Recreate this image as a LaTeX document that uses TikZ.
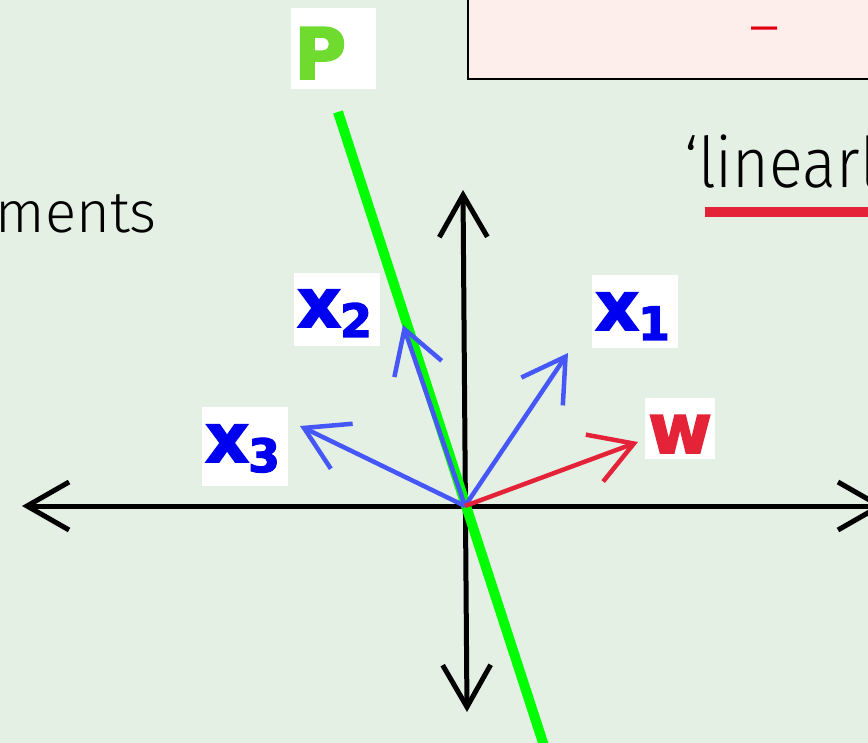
\documentclass[tikz,border=0pt]{standalone}
\usepackage{fontspec}
\usetikzlibrary{arrows.meta}
\newfontfamily\lblfont{DejaVu Sans}[BoldFeatures={FakeBold=2.5}]
\newfontfamily\thinfont{Fira Sans Light}
\newfontfamily\thinnarrow{Fira Sans Light}[FakeStretch=0.9]
\newfontfamily\dashfont{Liberation Sans}
\definecolor{bgc}{HTML}{E4F0E3}
\definecolor{pinkc}{HTML}{FDEDEB}
\definecolor{redc}{HTML}{E42339}
\definecolor{dashred}{HTML}{E00010}
\definecolor{greenc}{HTML}{00FF00}
\definecolor{pgreen}{HTML}{6FDB2F}
\definecolor{vecblue}{HTML}{4657F8}
\definecolor{lblblue}{HTML}{0000F0}
\tikzset{
  axisarr/.style={line width=5pt, black, {Straight Barb[length=42pt,width=48pt]}-{Straight Barb[length=42pt,width=48pt]}},
  vecarr/.style={line width=4.5pt, -{Straight Barb[length=42pt,width=50pt]}},
  lbl/.style={fill=white, inner xsep=3pt, inner ysep=0pt, align=left, font=\lblfont\bfseries\fontsize{68}{68}\selectfont}
}
\newcommand{\subsc}[1]{\kern-1pt\raisebox{-10pt}{\fontsize{46}{46}\selectfont #1}}
\begin{document}
\begin{tikzpicture}[x=1pt,y=-1pt]
\useasboundingbox (0,0) rectangle (868,743);
\clip (0,0) rectangle (868,743);
\fill[bgc] (0,0) rectangle (868,743);
% top box
\draw[line width=2.5pt, fill=pinkc] (468,-10) rectangle (885,79);
\node[anchor=base, inner sep=0pt, text=dashred, font=\dashfont\fontsize{47}{47}\selectfont] (dash) at (765,41) {–};
% texts
\node[anchor=base east, inner sep=0pt, font=\thinfont\fontsize{58}{58}\selectfont] (ments) at (157,233) {ments};
\node[anchor=base west, inner sep=0pt, font=\thinnarrow\fontsize{70}{70}\selectfont] (lin) at (684,188) {‘linearl};
\fill[redc] (705,207) rectangle (885,217);
% coordinates
\coordinate (O) at (465,506);
\coordinate (L) at (22,506);
\coordinate (R) at (885,506);
\coordinate (T) at (463,190);
\coordinate (B) at (467,712);
\coordinate (p1) at (338,112);
\coordinate (p2) at (547,755);
\coordinate (t1) at (568,353);
\coordinate (t2) at (403,325);
\coordinate (t3) at (300,426);
\coordinate (tw) at (638,442);
% axes
\draw[axisarr] (L) -- (R);
\draw[axisarr] (B) -- (T);
% plane line
\draw[greenc, line width=10pt] (p1) -- (p2);
% vectors
\draw[vecarr, vecblue] (O) -- (t1);
\draw[vecarr, vecblue] (O) -- (t2);
\draw[vecarr, vecblue] (O) -- (t3);
\draw[vecarr, redc] (O) -- (tw);
% labels
\node[lbl, text=pgreen, text width=79pt, text height=71pt, text depth=10pt, anchor=base west, font=\lblfont\bfseries\fontsize{71}{71}\selectfont] (P) at (291,79) {P};
\node[lbl, text=lblblue, text width=80pt, text height=55pt, text depth=18pt, anchor=base west] (x1) at (592,330) {x\subsc{1}};
\node[lbl, text=lblblue, text width=80pt, text height=54pt, text depth=19pt, anchor=base west] (x2) at (294,327) {x\subsc{2}};
\node[lbl, text=lblblue, text width=80pt, text height=55pt, text depth=24pt, anchor=base west] (x3) at (202,462) {x\subsc{3}};
\node[lbl, text=redc, text width=64pt, text height=55pt, text depth=6pt, anchor=base west, font=\lblfont\bfseries\fontsize{69}{69}\selectfont] (w) at (645,453) {w};
\end{tikzpicture}
\end{document}
